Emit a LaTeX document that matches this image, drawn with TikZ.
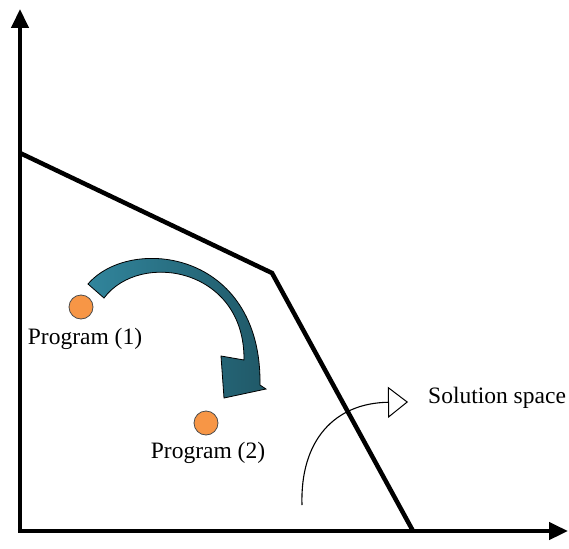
\documentclass[tikz,border=0pt]{standalone}
\usepackage{fontspec}
\setmainfont{Liberation Serif}
\usetikzlibrary{arrows.meta}
\definecolor{dotfill}{HTML}{F79646}
\definecolor{tealA}{HTML}{31859C}
\definecolor{tealB}{HTML}{205867}
\tikzset{
  axis/.style={line width=4.5pt, -{Triangle[length=19pt,width=17pt]}},
  bound/.style={line width=4.5pt, line join=miter},
  dot/.style={circle, draw=black!70, line width=0.8pt, fill=dotfill, minimum size=24pt, inner sep=0pt},
  lbl/.style={font=\fontsize{23.5}{26}\selectfont, inner sep=0pt},
  thinarrow/.style={line width=1.1pt, -{Triangle[open, length=20pt, width=31pt, line width=1pt]}}
}
\begin{document}
\begin{tikzpicture}[x=1pt,y=-1pt]
\useasboundingbox (0,0) rectangle (569,548);
\coordinate (o) at (20,531);
\coordinate (ytop) at (20,9);
\coordinate (xend) at (568,531);
\coordinate (b1) at (20,153);
\coordinate (b2) at (272,273);
\coordinate (b3) at (413,531);
% axes
\draw[axis] ([yshift=2.25pt]o) -- (ytop);
\draw[axis] ([xshift=-2.25pt]o) -- (xend);
% boundary
\draw[bound] (b1) -- (b2) -- (b3);
% teal curved arrow
\shade[left color=tealA, right color=tealB, draw=black, line width=0.8pt, line join=miter]
  (88,284) .. controls (130,235) and (262,250) .. (260,385)
  -- (266,389) -- (224,398) -- (221,356) -- (244,360)
  .. controls (245,268) and (140,250) .. (104,298) -- cycle;
% programs
\node[dot] (p1) at (81,307) {};
\node[lbl] (l1) at (85,339) {Program (1)};
\node[dot] (p2) at (206,423) {};
\node[lbl] (l2) at (208,453) {Program (2)};
% solution space
\coordinate (s0) at (302,505);
\coordinate (s1) at (408,402);
\draw[thinarrow] (s0) .. controls (300,440) and (335,403) .. (s1);
\node[lbl, anchor=west] (ss) at (428,398) {Solution space};
\end{tikzpicture}
\end{document}
